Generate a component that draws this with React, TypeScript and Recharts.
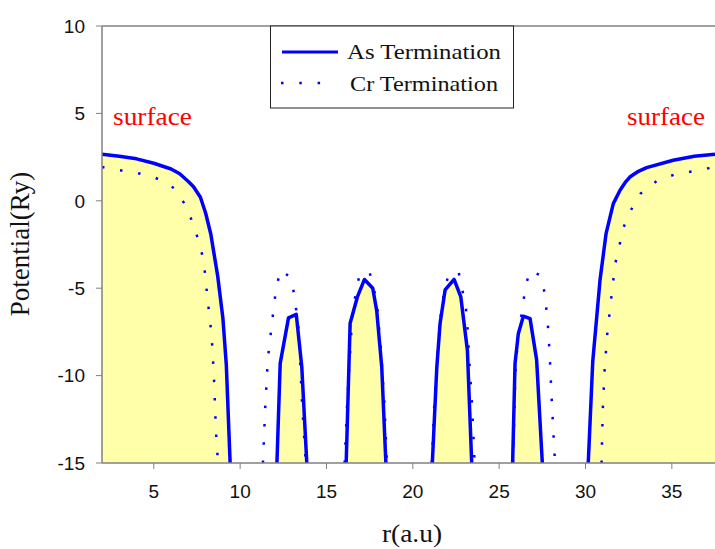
import React from 'react';
import { ComposedChart, Area, Line, XAxis, YAxis, ReferenceLine } from 'recharts';

// As Termination (solid line, filled). null = curve drops below -15 here
const asR = [
  2, 3, 4, 5, 6, 6.5, 7, 7.3, 7.7, 8, 8.3, 8.7, 9, 9.2, 9.42,
  10.8,
  12.13, 12.32, 12.8, 13.25, 13.57, 13.86,
  15,
  16.14, 16.37, 16.79, 17.2, 17.68, 17.91, 18.2, 18.44,
  19.8,
  21.13, 21.39, 21.58, 21.87, 22.39, 22.78, 23.16, 23.41,
  24.6,
  25.78, 25.92, 26.11, 26.4, 26.79, 27.17, 27.5,
  28.8,
  30.16, 30.42, 30.84, 31.19, 31.61, 32, 32.3, 32.57, 33, 33.54, 35.08, 36.3, 37.5,
];
const asV = [
  2.66, 2.55, 2.4, 2.15, 1.82, 1.55, 1.1, 0.8, 0.2, -0.7, -1.9, -4.3, -6.7, -9.4, -15,
  null,
  -15, -9.3, -6.7, -6.5, -9.5, -15,
  null,
  -15, -7, -5.5, -4.5, -5, -6.3, -9.5, -15,
  null,
  -15, -9.5, -7, -5.1, -4.5, -5.5, -8.55, -15,
  null,
  -15, -9.3, -7.6, -6.6, -6.74, -9.1, -15,
  null,
  -15, -9.2, -4.55, -1.88, -0.16, 0.6, 1.05, 1.36, 1.65, 1.9, 2.32, 2.55, 2.66,
];

// Cr Termination (dotted)
const crR = [
  2, 3, 4, 5, 5.6, 6.2, 6.9, 7.3, 7.65, 7.9, 8.1, 8.35, 8.48, 8.6, 8.72,
  10,
  11.32, 11.45, 11.6, 11.84, 12.09, 12.36, 12.94, 13.15, 13.4, 13.57, 13.8,
  15,
  16.05, 16.2, 16.33, 16.45, 16.55, 16.71, 16.93, 17.5, 17.78, 17.96, 18.15, 18.35, 18.5,
  19.8,
  21.1, 21.25, 21.45, 21.64, 21.82, 22.08, 22.66, 22.89, 23.08, 23.17, 23.28, 23.42, 23.58,
  24.7,
  25.8, 25.95, 26.15, 26.37, 26.5, 26.79, 27.37, 27.66, 27.75, 27.85, 27.94, 28.05, 28.2, 28.25,
  29.6,
  30.93, 31.0, 31.1, 31.25, 31.5, 31.72, 31.94, 32.13, 32.57, 33.19, 34.17, 35.22, 36.28, 37.34, 37.5,
];
const crV = [
  1.93, 1.75, 1.6, 1.35, 1.1, 0.7, -0.35, -1.4, -2.45, -3.5, -5.5, -7.7, -10, -13.2, -15,
  null,
  -15, -11.9, -9.1, -7, -4.93, -3.94, -4.42, -5.46, -7.5, -11.3, -15,
  null,
  -15, -11.5, -9.3, -7.3, -6.2, -5.2, -4.15, -4.1, -5.2, -6.3, -8.5, -11.5, -15,
  null,
  -15, -11.5, -8.5, -6.3, -5.2, -4.15, -4.1, -5.2, -6.2, -7.3, -9.3, -11.5, -15,
  null,
  -15, -9.5, -7.3, -6.1, -5, -3.98, -4.26, -5.35, -6.4, -7.45, -9.1, -11.5, -14.4, -15,
  null,
  -15, -12, -9.8, -7.7, -5.5, -3.6, -2.74, -1.7, -0.64, 0.41, 1.17, 1.52, 1.7, 1.9, 1.93,
];

const xTicks = [5, 10, 15, 20, 25, 30, 35];
const yTicks = [-15, -10, -5, 0, 5, 10];

const asData = asR.map((r, i) => ({ r, v: asV[i] }));
const crData = crR.map((r, i) => ({ r, v: crV[i] }));

const BLUE = '#0000ff';
const AXIS = '#808080';
const tickFont = { fill: '#111', fontSize: 19, fontFamily: '"Liberation Sans", Arial, sans-serif' };
const serif = '"Liberation Serif", "Times New Roman", serif';

export default function App() {
  return (
    <div style={{ position: 'absolute', left: 0, top: 0, width: 715, height: 549, background: '#fff', overflow: 'hidden' }}>
      <ComposedChart width={715} height={549} margin={{ top: 26, right: 0, bottom: 26, left: 0 }}>
        <XAxis
          dataKey="r"
          type="number"
          domain={[2, 37.5]}
          ticks={xTicks}
          allowDataOverflow
          height={60}
          stroke={AXIS}
          axisLine={{ stroke: AXIS, strokeWidth: 1.5 }}
          tickSize={6}
          tickMargin={16}
          tick={tickFont}
        />
        <YAxis
          type="number"
          domain={[-15, 10]}
          ticks={yTicks}
          allowDataOverflow
          width={102}
          stroke={AXIS}
          axisLine={{ stroke: AXIS, strokeWidth: 1.5 }}
          tickSize={6}
          tickMargin={11}
          tick={tickFont}
        />
        <ReferenceLine y={10} stroke={AXIS} strokeWidth={1.5} />
        <Area
          data={asData}
          dataKey="v"
          type="linear"
          baseValue={-15}
          fill="#ffffaa"
          fillOpacity={1}
          stroke="none"
          isAnimationActive={false}
        />
        <Line
          data={asData}
          dataKey="v"
          type="linear"
          stroke={BLUE}
          strokeWidth={3.5}
          strokeLinejoin="round"
          dot={false}
          isAnimationActive={false}
        />
        <Line
          data={crData}
          dataKey="v"
          type="linear"
          stroke={BLUE}
          strokeWidth={2.5}
          strokeDasharray="2.5 15.8"
          dot={false}
          isAnimationActive={false}
        />
      </ComposedChart>

      {/* legend, surface labels, axis titles */}
      <svg width={715} height={549} style={{ position: 'absolute', left: 0, top: 0, pointerEvents: 'none' }}>
        <rect x={270.5} y={26} width={243} height={82} fill="#fff" stroke="#222" strokeWidth={1} />
        <line x1={282} x2={338} y1={52} y2={52} stroke={BLUE} strokeWidth={3} />
        <line x1={281} x2={322} y1={83} y2={83} stroke={BLUE} strokeWidth={2.5} strokeDasharray="2.5 15.8" />
        <text x={347} y={59} fontFamily={serif} fontSize={22} fill="#111" textLength={154} lengthAdjust="spacingAndGlyphs">As Termination</text>
        <text x={350} y={91} fontFamily={serif} fontSize={22} fill="#111" textLength={148} lengthAdjust="spacingAndGlyphs">Cr Termination</text>

        <text x={113} y={124.5} fontFamily={serif} fontSize={26} fill="#ff0000" textLength={79} lengthAdjust="spacingAndGlyphs">surface</text>
        <text x={627} y={124.5} fontFamily={serif} fontSize={26} fill="#ff0000" textLength={78} lengthAdjust="spacingAndGlyphs">surface</text>

        <text transform="translate(29,244) rotate(-90)" textAnchor="middle" fontFamily={serif} fontSize={27} fill="#111">Potential(Ry)</text>
        <text x={382} y={542} fontFamily={serif} fontSize={25} fill="#111" textLength={60} lengthAdjust="spacingAndGlyphs">r(a.u)</text>
      </svg>
    </div>
  );
}
